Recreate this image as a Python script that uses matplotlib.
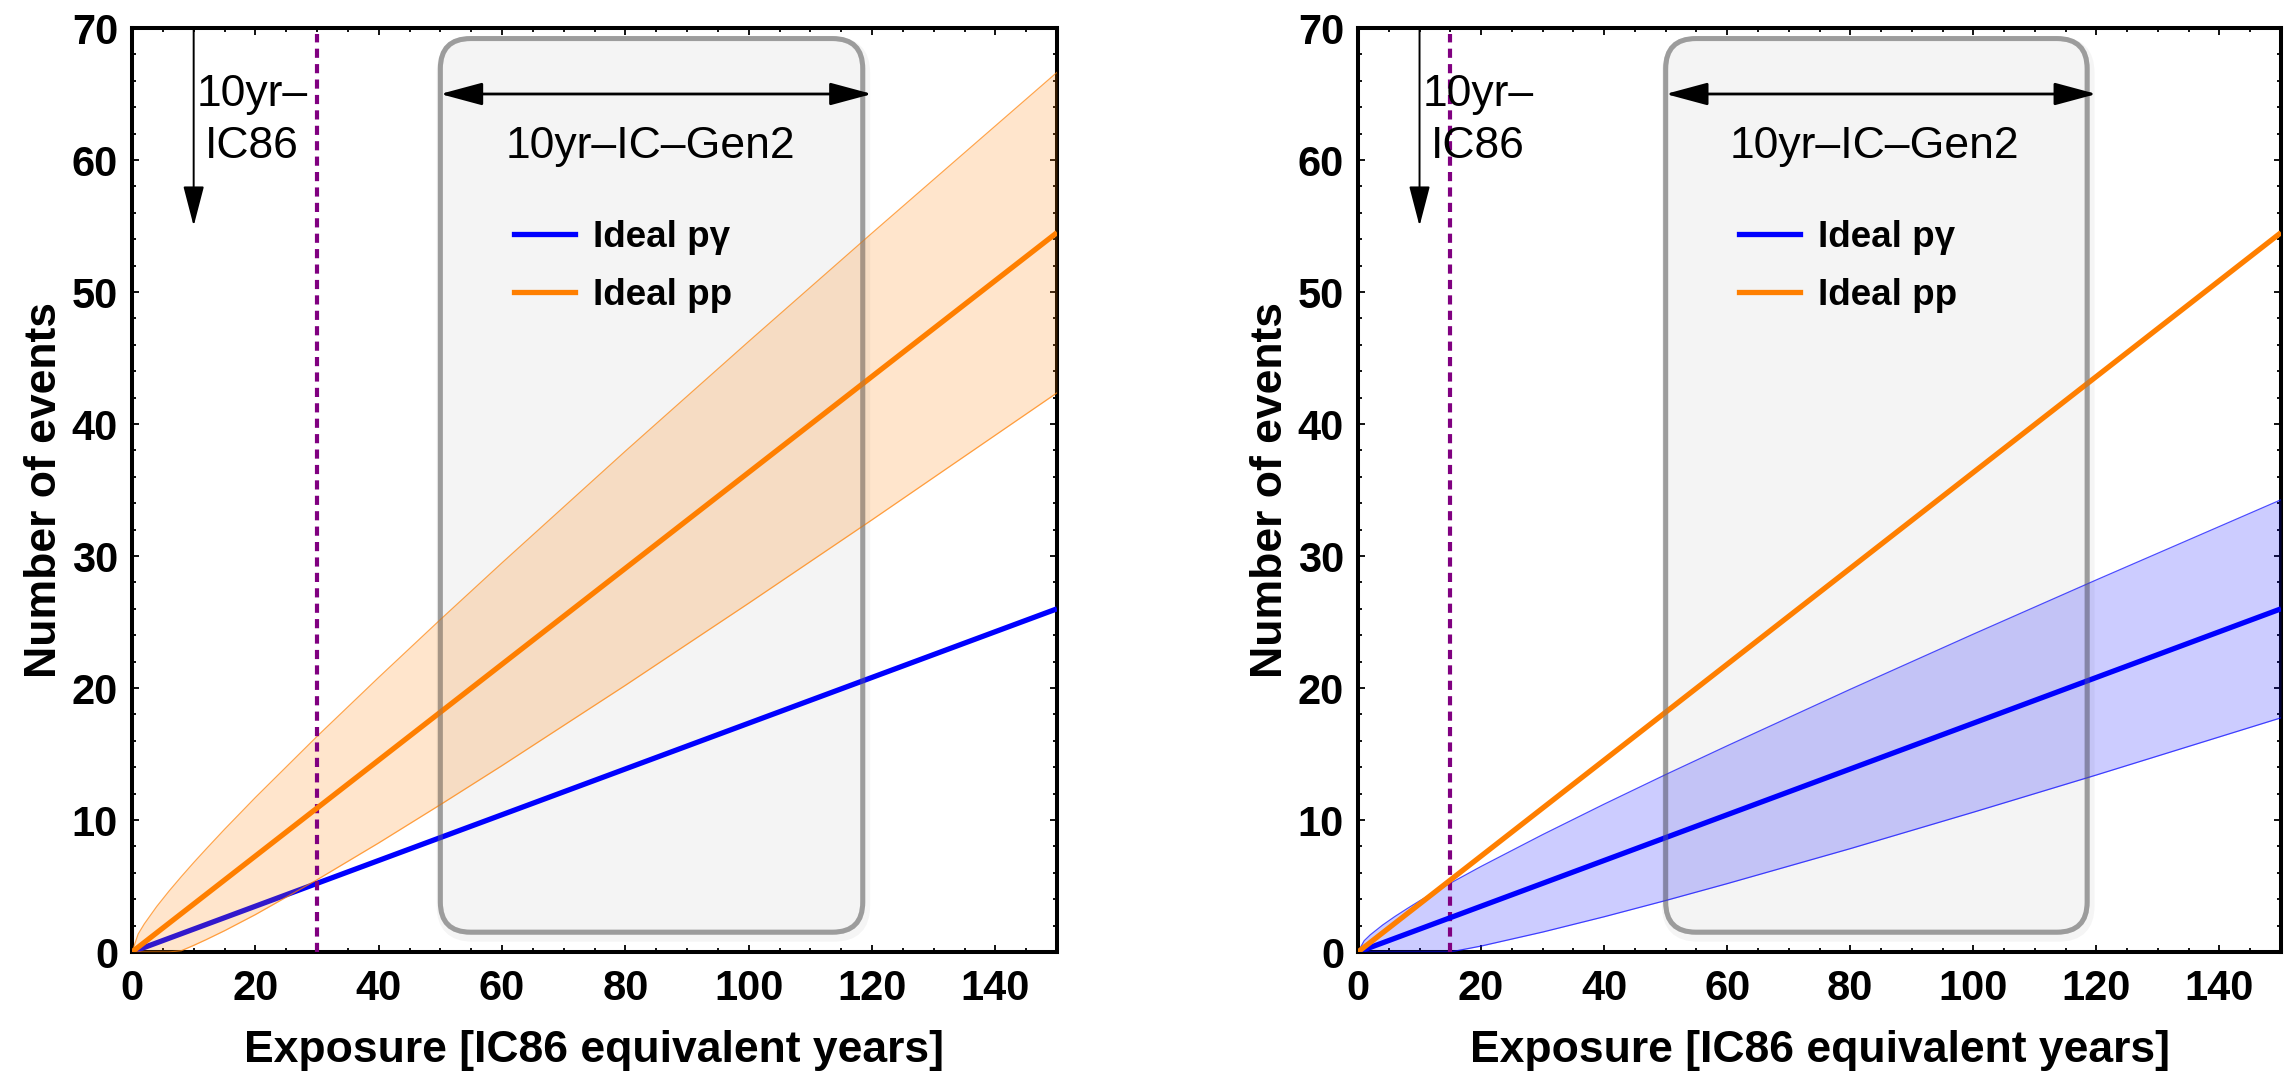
import matplotlib
matplotlib.use('Agg')
import matplotlib.pyplot as plt
from matplotlib.patches import FancyBboxPatch
from matplotlib.lines import Line2D
from matplotlib.ticker import MultipleLocator

plt.rcParams['font.family'] = ['Liberation Sans', 'DejaVu Sans']

# ---------------- data ----------------
line_x = [0, 150]
py_line = [0, 26.0]          # Ideal p-gamma
pp_line = [0, 54.5]          # Ideal pp

band_x = [0, 1, 2, 4, 6, 8, 10, 12, 15, 20, 30, 40, 50, 60, 80, 100, 120, 150]
pp_band_upper = [0, 1.36, 2.13, 3.44, 4.61, 5.71, 6.77, 7.79, 9.29, 11.70, 16.33,
                 20.80, 25.18, 29.48, 37.94, 46.25, 54.46, 66.64]
pp_band_lower = [0, 0, 0, 0, 0, 0.10, 0.50, 0.93, 1.61, 2.83, 5.47,
                 8.26, 11.16, 14.12, 20.20, 26.42, 32.74, 42.36]
py_band_upper = [0, 0.85, 1.30, 2.04, 2.69, 3.29, 3.87, 4.42, 5.21, 6.48, 8.89,
                 11.20, 13.44, 15.62, 19.90, 24.08, 28.19, 34.26]
py_band_lower = [0, 0, 0, 0, 0, 0, 0, 0, 0, 0.45, 1.51,
                 2.67, 3.90, 5.18, 7.83, 10.59, 13.41, 17.74]

ic86_years = [30, 15]          # dashed purple line, left / right panel
gen2_span = [50, 120]          # double arrow
box_x = [50, 118.5]
box_y = [1.5, 69.2]

x_ticks = [0, 20, 40, 60, 80, 100, 120, 140]
y_ticks = [0, 10, 20, 30, 40, 50, 60, 70]
legend_labels = ['Ideal pγ', 'Ideal pp']

BLUE = '#0000ff'
ORANGE = '#ff7f00'
PURPLE = '#800080'

W, H = 2295, 1072
fig = plt.figure(figsize=(W / 100, H / 100), dpi=100)

axes_px = [(132, 1057), (1358, 2281)]
ytop, ybot = 28, 952


def setup(ax):
    ax.set_xlim(0, 150)
    ax.set_ylim(0, 70)
    ax.set_xticks(x_ticks)
    ax.set_yticks(y_ticks)
    ax.xaxis.set_minor_locator(MultipleLocator(5))
    ax.yaxis.set_minor_locator(MultipleLocator(2))
    for s in ax.spines.values():
        s.set_linewidth(2.9)
    ax.tick_params(which='both', direction='in', top=True, right=True, width=1.3)
    ax.tick_params(which='major', length=5)
    ax.tick_params(which='minor', length=3)
    ax.tick_params(axis='x', which='major', pad=12, labelsize=30)
    ax.tick_params(axis='y', which='major', pad=10, labelsize=30)
    for lab in ax.get_xticklabels() + ax.get_yticklabels():
        lab.set_fontweight('bold')
    ax.set_xlabel('Exposure [IC86 equivalent years]', fontsize=32,
                  fontweight='bold', va='center')
    ax.xaxis.set_label_coords(0.5, -0.107)
    ax.set_ylabel('Number of events', fontsize=32, fontweight='bold', va='center')
    ax.yaxis.set_label_coords(-0.095, 0.5)


def decorations(ax, ic86):
    asp = (925 / 150) / (924 / 70)
    box = FancyBboxPatch((box_x[0], box_y[0]), box_x[1] - box_x[0], box_y[1] - box_y[0],
                         boxstyle='round,pad=0,rounding_size=4.9', mutation_aspect=asp,
                         facecolor='#f4f4f4', edgecolor='#b3b3b3', lw=3.6, zorder=1)
    ax.add_patch(box)
    shadow = FancyBboxPatch((box_x[0] + 0.3, box_y[0] - 0.3), box_x[1] - box_x[0], box_y[1] - box_y[0],
                            boxstyle='round,pad=0,rounding_size=4.9', mutation_aspect=asp,
                            facecolor='none', edgecolor=(0, 0, 0, 0.04), lw=8, zorder=0.9)
    ax.add_patch(shadow)
    edge = FancyBboxPatch((box_x[0], box_y[0]), box_x[1] - box_x[0], box_y[1] - box_y[0],
                          boxstyle='round,pad=0,rounding_size=4.9', mutation_aspect=asp,
                          facecolor='none', edgecolor=(0.45, 0.45, 0.45, 0.35), lw=3.6, zorder=6)
    ax.add_patch(edge)

    ax.axvline(ic86, ymax=0.993, color=PURPLE, lw=3.0, linestyle=(0, (2.2, 1.5)), zorder=4)

    ax.annotate('', xy=(10, 55), xytext=(10, 70),
                arrowprops=dict(arrowstyle='-|>,head_length=2.5,head_width=0.65',
                                lw=1.4, color='k', shrinkA=0, shrinkB=0,
                                mutation_scale=10), zorder=7)
    ax.text(19.5, 63.0, '10yr–\nIC86', fontsize=32, ha='center', va='center',
            linespacing=1.35, zorder=7)

    ax.annotate('', xy=(gen2_span[0], 65), xytext=(gen2_span[1], 65),
                arrowprops=dict(arrowstyle='<|-|>,head_length=2.6,head_width=0.7',
                                lw=2.0, color='k', shrinkA=0, shrinkB=0,
                                mutation_scale=10), zorder=7)
    ax.text(84, 61, '10yr–IC–Gen2', fontsize=32, ha='center', va='center', zorder=7)

    handles = [Line2D([], [], color=BLUE, lw=3.8), Line2D([], [], color=ORANGE, lw=3.8)]
    ax.legend(handles, legend_labels, loc='upper left', bbox_to_anchor=(0.413, 0.792),
              frameon=False, prop=dict(weight='bold', size=26.5), handlelength=1.65,
              handletextpad=0.5, labelspacing=0.62, borderpad=0, borderaxespad=0)


# ---------- left panel ----------
l, r = axes_px[0]
ax1 = fig.add_axes([l / W, 1 - ybot / H, (r - l) / W, (ybot - ytop) / H])
setup(ax1)
decorations(ax1, ic86_years[0])
ax1.plot(line_x, py_line, color=BLUE, lw=3.8, zorder=3, solid_capstyle='butt')
ax1.fill_between(band_x, pp_band_lower, pp_band_upper, color=ORANGE, alpha=0.2, lw=0, zorder=3.5)
ax1.plot(band_x, pp_band_upper, color=ORANGE, lw=0.9, alpha=0.7, zorder=3.6)
ax1.plot(band_x, pp_band_lower, color=ORANGE, lw=0.9, alpha=0.7, zorder=3.6)
ax1.plot(line_x, pp_line, color=ORANGE, lw=3.8, zorder=5, solid_capstyle='butt')

# ---------- right panel ----------
l, r = axes_px[1]
ax2 = fig.add_axes([l / W, 1 - ybot / H, (r - l) / W, (ybot - ytop) / H])
setup(ax2)
decorations(ax2, ic86_years[1])
ax2.fill_between(band_x, py_band_lower, py_band_upper, color=BLUE, alpha=0.2, lw=0, zorder=3.5)
ax2.plot(band_x, py_band_upper, color=BLUE, lw=0.9, alpha=0.7, zorder=3.6)
ax2.plot(band_x, py_band_lower, color=BLUE, lw=0.9, alpha=0.7, zorder=3.6)
ax2.plot(line_x, py_line, color=BLUE, lw=3.8, zorder=5, solid_capstyle='butt')
ax2.plot(line_x, pp_line, color=ORANGE, lw=3.8, zorder=5, solid_capstyle='butt')

fig.savefig('out.png', dpi=100, facecolor='white')
